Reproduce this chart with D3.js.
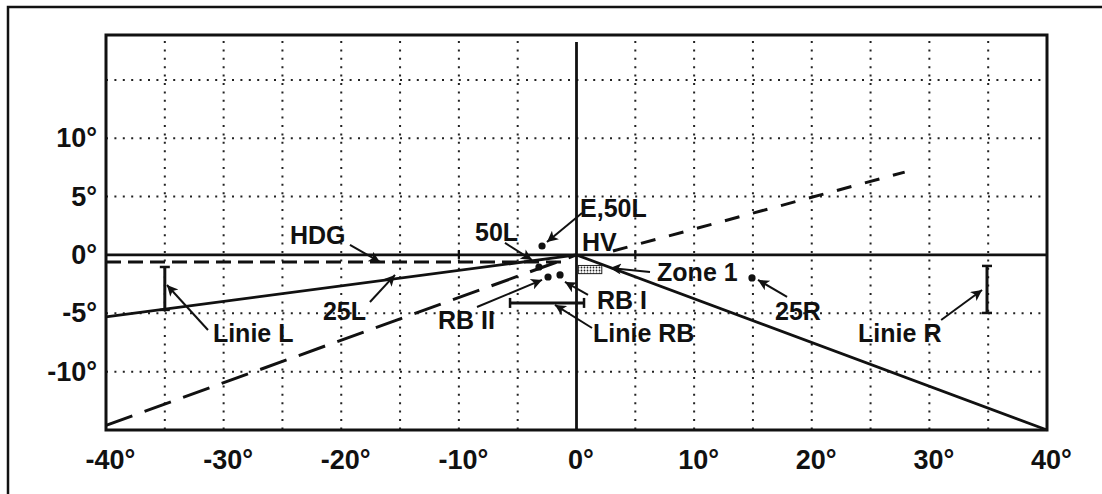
<!DOCTYPE html>
<html>
<head>
<meta charset="utf-8">
<script src="https://cdn.jsdelivr.net/npm/d3@7"></script>
<style>
  body { margin: 0; background: #fff; }
  text { font-family: "Liberation Sans", Arial, sans-serif; font-weight: bold; fill: #111; }
</style>
</head>
<body>
<svg id="chart" width="1102" height="494"></svg>
<script>
// ---- data (degrees) ----
var xTicks = [-40, -30, -20, -10, 0, 10, 20, 30, 40];
var yTicks = [-10, -5, 0, 5, 10];
var xGrid = [-35, -30, -25, -20, -15, -10, -5, 5, 10, 15, 20, 25, 30, 35];
var yGrid = [-10, -5, 5, 10, 15];

// solid lines
var lineZero = [[-40, 0], [40, 0]];
var lineVert = [[0, 18.25], [0, -15]];
var lineL = [[-40, -5.3], [0, 0]];
var lineR = [[0, 0], [40, -15]];
// dashed lines
var lineHDG = [[-40, -0.6], [-1, -0.6]];
var line25L = [[-40, -14.6], [0, 0]];
var lineRight = [[3.1, 0.34], [27.9, 7.1]];

// small marks on the zero line
var zeroTicks = [-10, 5];

// range bars: [x, yFrom, yTo] / [y, xFrom, xTo]
var barsV = [[-35, -1.03, -4.71], [34.9, -0.94, -4.97]];
var barsH = [[-4.11, -5.65, 0.64]];

// points
var points = [[-2.93, 0.77], [-3.19, -1.03], [-2.42, -1.89], [-1.4, -1.71], [14.92, -1.97]];

// Zone 1 box [x0, x1, y0, y1]
var zone1 = [0.15, 2.15, -0.9, -1.6];

// annotation labels: text, x (left), y (middle)
var labels = [
    ["HDG", -24.36, 1.71],
    ["E,50L", 0.3, 4.0],
    ["50L", -8.63, 1.96],
    ["HV", 0.47, 1.11],
    ["Zone 1", 6.85, -1.45],
    ["RB I", 1.74, -3.84],
    ["RB II", -11.78, -5.6],
    ["Linie RB", 1.4, -6.7],
    ["25L", -21.56, -4.8],
    ["Linie L", -30.91, -6.7],
    ["25R", 16.88, -4.8],
    ["Linie R", 23.94, -6.7]
];

// arrows: from [x, y] to [x, y]
var arrows = [
    [[-19.26, 0.86], [-16.71, -0.6]],
    [[-17.56, -4.03], [-15.43, -1.71]],
    [[-31.33, -6.43], [-34.82, -2.57]],
    [[-6.08, 1.03], [-3.78, -0.43]],
    [[0.47, 3.6], [-2.51, 1.11]],
    [[6.25, -1.46], [2.85, -1.11]],
    [[0.98, -3.43], [-0.98, -2.31]],
    [[-8.46, -4.46], [-2.93, -2.14]],
    [[1.32, -6.26], [-1.83, -4.28]],
    [[17.9, -3.6], [15.43, -2.14]],
    [[31.0, -5.57], [34.48, -3.0]]
];

// ---- layout ----
var svgRoot = d3.select("#chart");
var margin = {top: 35, right: 55, bottom: 64, left: 106};
var width = 1102 - margin.left - margin.right;
var height = 494 - margin.top - margin.bottom;

// outer frame (only top and left edges show in the scan)
svgRoot.append("path")
    .attr("d", "M8,494 L8,7 L1102,7")
    .attr("fill", "none")
    .attr("stroke", "#111")
    .attr("stroke-width", 2.5);

var svg = svgRoot.append("g")
    .attr("transform", `translate(${margin.left},${margin.top})`);

var x = d3.scaleLinear().domain([-40, 40]).range([0, width]);
var y = d3.scaleLinear().domain([-15, 18.85]).range([height, 0]);

var defs = svgRoot.append("defs");
defs.append("marker")
    .attr("id", "arrow")
    .attr("viewBox", "0 0 10 10")
    .attr("refX", 10).attr("refY", 5)
    .attr("markerUnits", "userSpaceOnUse")
    .attr("markerWidth", 14).attr("markerHeight", 11)
    .attr("orient", "auto")
    .append("path")
    .attr("d", "M0,0 L10,5 L0,10 L2.5,5 Z")
    .attr("fill", "#111");

var pat = defs.append("pattern")
    .attr("id", "stipple")
    .attr("width", 3).attr("height", 3)
    .attr("patternUnits", "userSpaceOnUse");
pat.append("rect").attr("width", 3).attr("height", 3).attr("fill", "#fff");
pat.append("circle").attr("cx", 1.5).attr("cy", 1.5).attr("r", 0.9).attr("fill", "#222");

// dotted grid
svg.selectAll(".vgrid")
    .data(xGrid)
    .enter().append("line")
    .attr("x1", d => x(d)).attr("x2", d => x(d))
    .attr("y1", 6).attr("y2", height)
    .attr("stroke", "#222")
    .attr("stroke-width", 2)
    .attr("stroke-dasharray", "2,6.4");
svg.selectAll(".hgrid")
    .data(yGrid)
    .enter().append("line")
    .attr("x1", 0).attr("x2", width)
    .attr("y1", d => y(d)).attr("y2", d => y(d))
    .attr("stroke", "#222")
    .attr("stroke-width", 2)
    .attr("stroke-dasharray", "2,6.4");

// axis labels (no tick lines)
var xAxis = svg.append("g")
    .attr("transform", `translate(4,${height})`)
    .call(d3.axisBottom(x).tickValues(xTicks).tickSize(0).tickPadding(20).tickFormat(d => d + "°"));
var yAxis = svg.append("g")
    .attr("transform", "translate(-9,0)")
    .call(d3.axisLeft(y).tickValues(yTicks).tickSize(0).tickPadding(0).tickFormat(d => d + "°"));
[xAxis, yAxis].forEach(function (g) {
    g.select(".domain").remove();
    g.selectAll("text")
        .style("font-family", "'Liberation Sans', Arial, sans-serif")
        .style("font-weight", "bold")
        .style("font-size", "27px")
        .attr("fill", "#111");
});

var line = d3.line().x(d => x(d[0])).y(d => y(d[1]));

// solid lines
[lineZero, lineVert, lineL, lineR].forEach(function (pts) {
    svg.append("path")
        .attr("d", line(pts))
        .attr("fill", "none")
        .attr("stroke", "#111")
        .attr("stroke-width", 2.8);
});

// dashed lines
svg.append("path")
    .attr("d", line(lineHDG))
    .attr("fill", "none").attr("stroke", "#111")
    .attr("stroke-width", 3)
    .attr("stroke-dasharray", "15,7");
svg.append("path")
    .attr("d", line(line25L))
    .attr("fill", "none").attr("stroke", "#111")
    .attr("stroke-width", 3)
    .attr("stroke-dasharray", "28,13");
svg.append("path")
    .attr("d", line(lineRight))
    .attr("fill", "none").attr("stroke", "#111")
    .attr("stroke-width", 3)
    .attr("stroke-dasharray", "15,14");

// marks on zero line
svg.selectAll(".zt")
    .data(zeroTicks)
    .enter().append("line")
    .attr("x1", d => x(d)).attr("x2", d => x(d))
    .attr("y1", y(0) - 5).attr("y2", y(0) + 4)
    .attr("stroke", "#111").attr("stroke-width", 2.2);

// vertical range bars
barsV.forEach(function (b) {
    var g = svg.append("g").attr("stroke", "#111");
    g.append("line").attr("x1", x(b[0])).attr("x2", x(b[0]))
        .attr("y1", y(b[1])).attr("y2", y(b[2])).attr("stroke-width", 3);
    [b[1], b[2]].forEach(function (v) {
        g.append("line").attr("x1", x(b[0]) - 5).attr("x2", x(b[0]) + 5)
            .attr("y1", y(v)).attr("y2", y(v)).attr("stroke-width", 2.5);
    });
});
// horizontal range bar
barsH.forEach(function (b) {
    var g = svg.append("g").attr("stroke", "#111");
    g.append("line").attr("x1", x(b[1])).attr("x2", x(b[2]))
        .attr("y1", y(b[0])).attr("y2", y(b[0])).attr("stroke-width", 3);
    [b[1], b[2]].forEach(function (v) {
        g.append("line").attr("x1", x(v)).attr("x2", x(v))
            .attr("y1", y(b[0]) - 5).attr("y2", y(b[0]) + 5).attr("stroke-width", 2.5);
    });
});

// Zone 1
svg.append("rect")
    .attr("x", x(zone1[0]))
    .attr("y", y(zone1[2]))
    .attr("width", x(zone1[1]) - x(zone1[0]))
    .attr("height", y(zone1[3]) - y(zone1[2]))
    .attr("fill", "url(#stipple)")
    .attr("stroke", "#222")
    .attr("stroke-width", 1);

// points
svg.selectAll(".pt")
    .data(points)
    .enter().append("circle")
    .attr("cx", d => x(d[0]))
    .attr("cy", d => y(d[1]))
    .attr("r", 3.6)
    .attr("fill", "#111");

// frame of the plot
svg.append("rect")
    .attr("width", width).attr("height", height)
    .attr("fill", "none")
    .attr("stroke", "#111")
    .attr("stroke-width", 3);

// arrows
svg.selectAll(".arr")
    .data(arrows)
    .enter().append("line")
    .attr("x1", d => x(d[0][0])).attr("y1", d => y(d[0][1]))
    .attr("x2", d => x(d[1][0])).attr("y2", d => y(d[1][1]))
    .attr("stroke", "#111")
    .attr("stroke-width", 2)
    .attr("marker-end", "url(#arrow)");

// labels
svg.selectAll(".lbl")
    .data(labels)
    .enter().append("text")
    .attr("x", d => x(d[1]))
    .attr("y", d => y(d[2]))
    .attr("dominant-baseline", "central")
    .style("font-size", "25px")
    .text(d => d[0]);
</script>
</body>
</html>
